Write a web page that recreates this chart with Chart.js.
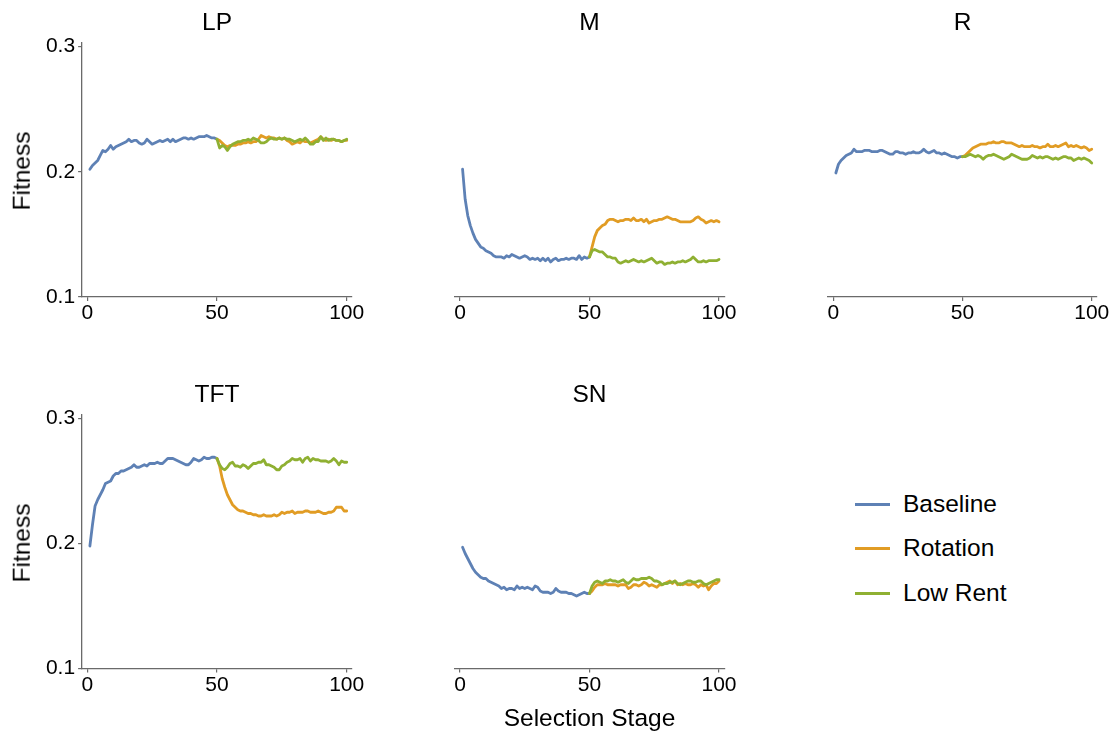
<!DOCTYPE html>
<html><head><meta charset="utf-8">
<script src="https://cdn.jsdelivr.net/npm/chart.js@4.4.1/dist/chart.umd.min.js"></script>
<style>
html,body{margin:0;padding:0;background:#fff;}
body{width:1115px;height:733px;position:relative;overflow:hidden;font-family:"Liberation Sans",Arial,sans-serif;}
.lbl{position:absolute;white-space:nowrap;line-height:1;color:#000;}
canvas{position:absolute;}
.legline{position:absolute;height:3px;}
</style></head><body>
<script>
// ---------- data ----------
const panelTitles = ["LP", "M", "R", "TFT", "SN"];
const seriesNames = ["Baseline", "Rotation", "Low Rent"];
const xTickValues = [0, 50, 100];
const yTickValues = [0.1, 0.2, 0.3];
const baselineFirstStage = 1;   // baseline runs stages 1..50
const switchStage = 50;         // treatments run stages 50..100
const xAxisTitle = "Selection Stage";
const yAxisTitle = "Fitness";

const lpBaseline = [0.202,0.205,0.207,0.209,0.213,0.217,0.216,0.218,0.221,0.218,
  0.220,0.221,0.222,0.223,0.224,0.226,0.224,0.225,0.225,0.223,
  0.222,0.223,0.226,0.224,0.222,0.223,0.224,0.225,0.224,0.225,
  0.226,0.224,0.226,0.224,0.225,0.226,0.227,0.227,0.226,0.227,
  0.226,0.227,0.228,0.228,0.228,0.229,0.228,0.227,0.227,0.226];
const lpRotation = [0.226,
  0.225,0.223,0.221,0.220,0.221,0.221,0.221,0.222,0.222,0.223,
  0.223,0.224,0.223,0.224,0.224,0.226,0.229,0.228,0.227,0.228,
  0.227,0.227,0.226,0.227,0.226,0.227,0.225,0.224,0.222,0.223,
  0.224,0.223,0.225,0.224,0.224,0.223,0.224,0.225,0.226,0.228,
  0.226,0.225,0.226,0.225,0.226,0.225,0.225,0.224,0.225,0.225];
const lpLowRent = [0.226,
  0.219,0.221,0.220,0.217,0.220,0.222,0.223,0.224,0.224,0.225,
  0.225,0.226,0.225,0.227,0.226,0.225,0.223,0.223,0.224,0.226,
  0.227,0.226,0.226,0.227,0.226,0.227,0.226,0.226,0.225,0.224,
  0.225,0.226,0.225,0.227,0.225,0.222,0.222,0.224,0.224,0.228,
  0.225,0.227,0.225,0.226,0.226,0.225,0.225,0.224,0.225,0.226];

const mBaseline = [0.202,0.178,0.165,0.157,0.151,0.146,0.143,0.140,0.139,0.137,
  0.136,0.135,0.133,0.132,0.132,0.132,0.131,0.133,0.132,0.134,
  0.133,0.132,0.131,0.132,0.133,0.132,0.130,0.131,0.130,0.131,
  0.129,0.131,0.129,0.131,0.128,0.130,0.131,0.129,0.130,0.130,
  0.131,0.130,0.131,0.131,0.130,0.133,0.130,0.132,0.131,0.132];
const mRotation = [0.132,
  0.140,0.148,0.153,0.155,0.157,0.158,0.161,0.162,0.162,0.161,
  0.160,0.161,0.161,0.162,0.162,0.161,0.163,0.161,0.161,0.162,
  0.160,0.162,0.159,0.160,0.161,0.161,0.162,0.162,0.163,0.164,
  0.163,0.162,0.162,0.161,0.160,0.160,0.160,0.160,0.160,0.161,
  0.163,0.164,0.162,0.161,0.159,0.160,0.161,0.160,0.161,0.160];
const mLowRent = [0.132,
  0.137,0.138,0.137,0.136,0.136,0.134,0.132,0.132,0.131,0.131,
  0.128,0.127,0.128,0.129,0.128,0.129,0.130,0.129,0.128,0.129,
  0.128,0.129,0.130,0.131,0.129,0.127,0.128,0.128,0.126,0.127,
  0.127,0.128,0.127,0.128,0.128,0.129,0.128,0.129,0.130,0.132,
  0.130,0.128,0.128,0.129,0.128,0.129,0.129,0.129,0.129,0.130];

const rBaseline = [0.199,0.206,0.209,0.211,0.213,0.214,0.215,0.218,0.216,0.216,
  0.216,0.217,0.217,0.217,0.216,0.216,0.216,0.217,0.217,0.216,
  0.215,0.214,0.214,0.216,0.216,0.215,0.215,0.214,0.215,0.215,
  0.216,0.215,0.215,0.216,0.218,0.216,0.215,0.216,0.217,0.215,
  0.215,0.214,0.215,0.214,0.213,0.212,0.212,0.211,0.212,0.212];
const rRotation = [0.212,
  0.213,0.215,0.217,0.219,0.220,0.221,0.222,0.222,0.222,0.223,
  0.223,0.224,0.223,0.223,0.224,0.224,0.223,0.223,0.223,0.222,
  0.221,0.220,0.221,0.220,0.220,0.220,0.221,0.220,0.220,0.219,
  0.220,0.220,0.222,0.220,0.220,0.221,0.220,0.221,0.222,0.223,
  0.220,0.221,0.220,0.221,0.220,0.219,0.220,0.219,0.217,0.218];
const rLowRent = [0.212,
  0.212,0.213,0.214,0.213,0.212,0.213,0.212,0.210,0.212,0.213,
  0.213,0.214,0.213,0.212,0.211,0.210,0.211,0.212,0.214,0.213,
  0.212,0.211,0.210,0.210,0.210,0.211,0.213,0.212,0.211,0.212,
  0.211,0.212,0.212,0.211,0.210,0.211,0.210,0.211,0.212,0.212,
  0.211,0.211,0.209,0.210,0.211,0.210,0.211,0.210,0.209,0.207];

const tftBaseline = [0.198,0.215,0.230,0.235,0.239,0.243,0.248,0.249,0.250,0.254,
  0.256,0.256,0.258,0.258,0.259,0.260,0.261,0.263,0.261,0.261,
  0.262,0.263,0.262,0.264,0.264,0.264,0.265,0.264,0.264,0.266,
  0.268,0.268,0.268,0.267,0.266,0.265,0.264,0.263,0.263,0.265,
  0.268,0.267,0.266,0.267,0.269,0.268,0.268,0.269,0.269,0.268];
const tftRotation = [0.268,
  0.262,0.252,0.245,0.239,0.235,0.231,0.229,0.227,0.226,0.226,
  0.225,0.224,0.224,0.223,0.223,0.222,0.222,0.223,0.222,0.222,
  0.222,0.223,0.222,0.223,0.225,0.224,0.225,0.225,0.226,0.224,
  0.225,0.225,0.225,0.226,0.226,0.225,0.225,0.225,0.226,0.225,
  0.224,0.224,0.225,0.225,0.226,0.229,0.229,0.229,0.226,0.226];
const tftLowRent = [0.268,
  0.263,0.260,0.259,0.261,0.264,0.265,0.262,0.262,0.261,0.263,
  0.262,0.260,0.262,0.264,0.264,0.265,0.265,0.267,0.263,0.263,
  0.262,0.261,0.259,0.259,0.262,0.263,0.265,0.266,0.268,0.267,
  0.267,0.268,0.265,0.268,0.269,0.266,0.268,0.267,0.267,0.266,
  0.266,0.266,0.265,0.266,0.268,0.266,0.263,0.266,0.265,0.265];

const snBaseline = [0.197,0.192,0.188,0.184,0.180,0.177,0.175,0.173,0.172,0.172,
  0.170,0.169,0.168,0.167,0.166,0.164,0.165,0.163,0.164,0.164,
  0.163,0.166,0.164,0.165,0.164,0.165,0.164,0.163,0.166,0.165,
  0.162,0.161,0.161,0.161,0.160,0.161,0.164,0.162,0.161,0.161,
  0.161,0.160,0.160,0.159,0.158,0.159,0.160,0.161,0.160,0.160];
const snRotation = [0.160,
  0.162,0.165,0.167,0.167,0.167,0.168,0.167,0.167,0.167,0.167,
  0.166,0.167,0.167,0.167,0.164,0.165,0.167,0.167,0.166,0.167,
  0.169,0.168,0.166,0.167,0.166,0.165,0.167,0.167,0.168,0.169,
  0.170,0.168,0.170,0.167,0.168,0.167,0.168,0.167,0.167,0.168,
  0.167,0.165,0.167,0.166,0.167,0.163,0.166,0.168,0.168,0.170];
const snLowRent = [0.160,
  0.166,0.169,0.170,0.169,0.168,0.170,0.170,0.171,0.170,0.170,
  0.169,0.170,0.171,0.169,0.168,0.170,0.172,0.171,0.171,0.172,
  0.172,0.172,0.173,0.172,0.170,0.170,0.169,0.167,0.168,0.168,
  0.169,0.169,0.170,0.168,0.167,0.168,0.169,0.170,0.170,0.169,
  0.169,0.170,0.170,0.168,0.167,0.168,0.169,0.170,0.171,0.171];

// ---------- styling / layout ----------
const seriesColors = ["#5E81B5", "#E19C24", "#8FB032"];
const axisColor = "#6a6a6a";
const FONT = '"Liberation Sans", Arial, sans-serif';
const X_MIN = -2, X_MAX = 102, Y_MIN = 0.1, Y_MAX = 0.3032;
const colLeft = [82.1, 454.8, 828.1];
const colRight = [351.9, 724.2, 1096.9];
const rowTop = [42.5, 414.5];
const rowBottom = [297, 668.5];

const panels = [
  {title: panelTitles[0], series: [lpBaseline, lpRotation, lpLowRent], row: 0, col: 0, yAxis: true},
  {title: panelTitles[1], series: [mBaseline, mRotation, mLowRent], row: 0, col: 1, yAxis: false},
  {title: panelTitles[2], series: [rBaseline, rRotation, rLowRent], row: 0, col: 2, yAxis: false},
  {title: panelTitles[3], series: [tftBaseline, tftRotation, tftLowRent], row: 1, col: 0, yAxis: true},
  {title: panelTitles[4], series: [snBaseline, snRotation, snLowRent], row: 1, col: 1, yAxis: false}
];

function addLabel(text, x, y, size, rotate) {
  const d = document.createElement('div');
  d.className = 'lbl';
  d.textContent = text;
  d.style.left = x + 'px';
  d.style.top = y + 'px';
  d.style.fontSize = size + 'px';
  d.style.transform = 'translate(-50%,-50%)' + (rotate ? ' rotate(-90deg)' : '');
  document.body.appendChild(d);
  return d;
}

panels.forEach(p => {
  const L = colLeft[p.col], R = colRight[p.col], T = rowTop[p.row], B = rowBottom[p.row];
  const cl = Math.floor(L - 80), ct = Math.floor(T - 40);
  const cw = Math.ceil(R + 18) - cl, ch = Math.ceil(B + 40) - ct;
  const yW = L - cl, padTop = T - ct, padRight = cl + cw - R, xH = ct + ch - B;
  const canvas = document.createElement('canvas');
  canvas.width = cw; canvas.height = ch;
  canvas.style.left = cl + 'px'; canvas.style.top = ct + 'px';
  canvas.style.width = cw + 'px'; canvas.style.height = ch + 'px';
  document.body.appendChild(canvas);

  const datasets = p.series.map((arr, k) => ({
    label: seriesNames[k],
    data: arr.map((v, j) => ({x: (k === 0 ? baselineFirstStage : switchStage) + j, y: v})),
    borderColor: seriesColors[k],
    backgroundColor: seriesColors[k],
    borderWidth: 2.8,
    pointRadius: 0,
    tension: 0,
    fill: false,
    borderJoinStyle: 'round',
    borderCapStyle: 'round',
    order: 2 - k
  }));

  new Chart(canvas, {
    type: 'line',
    data: {datasets},
    options: {
      responsive: false,
      animation: false,
      events: [],
      layout: {padding: {top: padTop, right: padRight, left: 0, bottom: 0}},
      plugins: {legend: {display: false}, tooltip: {enabled: false}, title: {display: false}},
      scales: {
        x: {
          type: 'linear', min: X_MIN, max: X_MAX,
          afterFit: s => { s.height = xH; },
          afterBuildTicks: s => { s.ticks = xTickValues.map(v => ({value: v})); },
          ticks: {autoSkip: false, maxRotation: 0, color: '#000', padding: 0,
                  font: {size: 21, family: FONT}, callback: v => String(v)},
          grid: {display: true, drawOnChartArea: false, drawTicks: true, tickLength: 4, color: axisColor, lineWidth: 1.2},
          border: {display: true, color: axisColor, width: 1.3}
        },
        y: {
          type: 'linear', min: Y_MIN, max: Y_MAX,
          afterFit: s => { s.width = yW; },
          afterBuildTicks: s => { s.ticks = yTickValues.map(v => ({value: v})); },
          ticks: {display: p.yAxis, color: '#000', padding: 3,
                  font: {size: 21, family: FONT}, callback: v => Number(v).toFixed(1)},
          grid: {display: p.yAxis, drawOnChartArea: false, drawTicks: true, tickLength: 4, color: axisColor, lineWidth: 1.2},
          border: {display: p.yAxis, color: axisColor, width: 1.3}
        }
      }
    }
  });

  // panel title, centred over the data range 0..100
  const xc = L + (R - L) * ((50 - X_MIN) / (X_MAX - X_MIN));
  addLabel(p.title, xc, T - 21, 24.5, false);
  if (p.yAxis) {
    addLabel(yAxisTitle, 22, (T + B) / 2 + 1, 24.5, true);
  }
  if (p.row === 1 && p.col === 1) {
    addLabel(xAxisTitle, xc, 718, 24.5, false);
  }
});

// legend
const legendRows = [504, 548, 593];
seriesNames.forEach((name, k) => {
  const ln = document.createElement('div');
  ln.className = 'legline';
  ln.style.left = '855px';
  ln.style.width = '35px';
  ln.style.top = (legendRows[k] - 1.5) + 'px';
  ln.style.background = seriesColors[k];
  document.body.appendChild(ln);
  const t = document.createElement('div');
  t.className = 'lbl';
  t.textContent = name;
  t.style.left = '903px';
  t.style.top = legendRows[k] + 'px';
  t.style.fontSize = '24.5px';
  t.style.transform = 'translate(0,-50%)';
  document.body.appendChild(t);
});
</script>
</body></html>
